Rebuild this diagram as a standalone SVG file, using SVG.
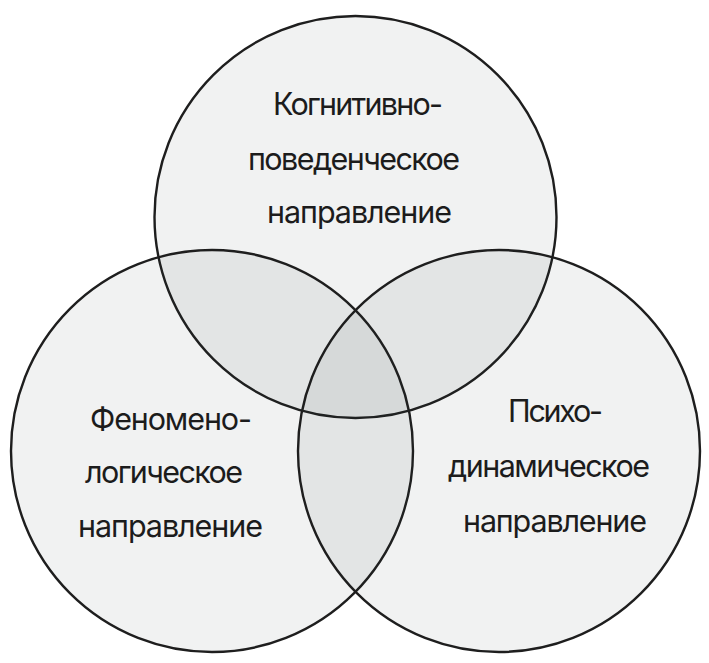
<svg xmlns="http://www.w3.org/2000/svg" width="709" height="663" viewBox="0 0 709 663">
<style>
.c{fill:#2a3a3a;fill-opacity:0.068;stroke:#1e1e1e;stroke-width:2.4}
.t{font-family:"Inter","Noto Sans","DejaVu Sans",sans-serif;font-size:30.5px;fill:#1c1c1c;text-anchor:middle}
</style>
<rect width="709" height="663" fill="#ffffff"/>
<g id="node-cognitive">
<circle class="c" cx="355.5" cy="217" r="201"/>
<text class="t" x="358" y="115" textLength="170" lengthAdjust="spacing">Когнитивно-</text>
<text class="t" x="354" y="170" textLength="212" lengthAdjust="spacing">поведенческое</text>
<text class="t" x="359.5" y="223" textLength="185" lengthAdjust="spacing">направление</text>
</g>
<g id="node-phenomenological">
<circle class="c" cx="212" cy="451" r="201"/>
<text class="t" x="171" y="430" textLength="162" lengthAdjust="spacing">Феномено-</text>
<text class="t" x="164" y="483" textLength="158" lengthAdjust="spacing">логическое</text>
<text class="t" x="170.5" y="537" textLength="185" lengthAdjust="spacing">направление</text>
</g>
<g id="node-psychodynamic">
<circle class="c" cx="499" cy="451" r="201"/>
<text class="t" x="555.5" y="422" textLength="95" lengthAdjust="spacing">Психо-</text>
<text class="t" x="549" y="477" textLength="202" lengthAdjust="spacing">динамическое</text>
<text class="t" x="555" y="532" textLength="184" lengthAdjust="spacing">направление</text>
</g>
<g id="connectors"></g>
</svg>
